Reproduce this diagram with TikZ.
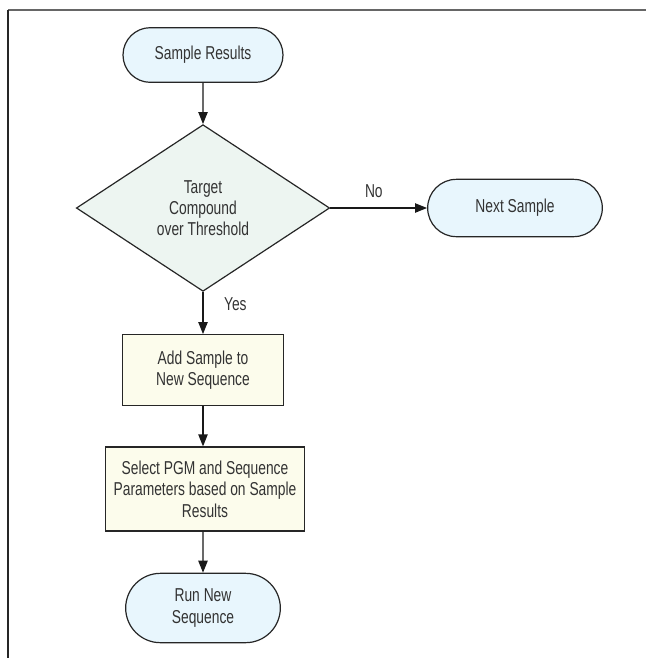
\documentclass[tikz,border=0pt]{standalone}
\usepackage{fontspec}
\setmainfont{Liberation Sans}[FakeStretch=0.74]
\usepackage{xcolor}
\usetikzlibrary{positioning,arrows.meta,shapes.geometric,shapes.misc}
\definecolor{termBlue}{HTML}{E8F6FD}
\definecolor{decGreen}{HTML}{EDF5F1}
\definecolor{procCream}{HTML}{FCFCEC}
\definecolor{inkGray}{HTML}{333333}

\begin{document}
\begin{tikzpicture}[x=0.75pt, y=-0.75pt, font=\fontsize{14}{16}\selectfont,
    text=inkGray, >={Triangle[length=9pt,width=7pt]},
    term/.style={draw=black!85,line width=0.9pt,rounded rectangle,fill=termBlue,
                 minimum height=41pt,align=center,inner sep=2pt},
    decide/.style={draw=black!85,line width=0.9pt,diamond,aspect=1.5,fill=decGreen,
                   minimum width=190pt,minimum height=125pt,align=center,inner sep=0pt},
    proc/.style={draw=black!85,line width=0.9pt,fill=procCream,
                 minimum height=53pt,align=center},
    flow/.style={->,draw=black!90,line width=0.9pt}]
    \useasboundingbox (0,0) rectangle (646,658);
    \draw[black!60,line width=1.5pt] (8,10) -- (646,10);
    \draw[black!85,line width=1.5pt] (8,10) -- (8,658);

    \node[term,minimum width=124pt] (res) at (203,55) {Sample Results};
    \node[decide] (thr) at (203,208) {Target\\Compound\\over Threshold};
    \node[term,minimum width=135pt,minimum height=43pt] (next) at (515,208) {Next Sample};
    \node[proc,minimum width=121pt] (add) at (203,370) {Add Sample to\\New Sequence};
    \node[proc,minimum width=149pt,minimum height=63pt] (sel) at (205,489)
        {Select PGM and Sequence\\Parameters based on Sample\\Results};
    \node[term,minimum width=120pt,minimum height=52pt] (run) at (203,608) {Run New\\Sequence};

    \draw[flow] (res) -- (thr);
    \draw[flow] (thr) -- node[above=4pt,pos=0.45] {No} (next);
    \draw[flow] (thr) -- node[right=12pt,pos=0.3] {Yes} (add);
    \draw[flow] (add) -- (add |- sel.north);
    \draw[flow] (run |- sel.south) -- (run);
  \end{tikzpicture}
\end{document}
